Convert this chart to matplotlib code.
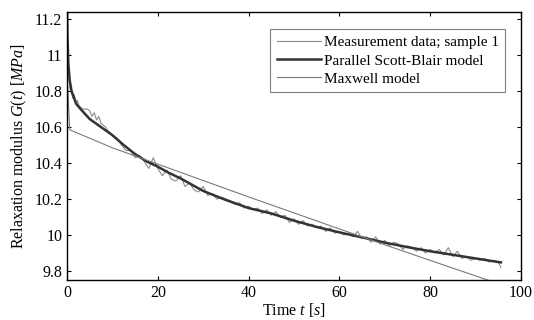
"""Relaxation modulus: measurement vs. Scott-Blair and Maxwell fits."""
import numpy as np
import matplotlib
matplotlib.use("Agg")
import matplotlib.pyplot as plt

plt.rcParams["font.family"] = ["Liberation Serif", "DejaVu Serif"]
plt.rcParams["mathtext.fontset"] = "custom"
plt.rcParams["mathtext.rm"] = "Liberation Serif"
plt.rcParams["mathtext.it"] = "Liberation Serif:italic"

# measurement data, sample 1 (dense start, then 1 s steps)
t_meas = [0, 0.2, 0.4, 0.7, 1.0, 1.3, 1.6, 2.0, 2.3, 2.6, 3.0, 3.5, 4.0, 4.5,
          5.0, 5.5, 6.0, 6.5, 7.0, 7.5, 8.0, 8.5, 9.0, 9.5] + list(range(10, 96)) + [95.6]
g_meas = [11.22, 11.00, 10.88, 10.81, 10.80, 10.76, 10.78, 10.73, 10.75, 10.72,
          10.71, 10.70, 10.70, 10.70, 10.69, 10.66, 10.68, 10.64, 10.66, 10.62,
          10.61, 10.60, 10.58, 10.57,
          10.55, 10.54, 10.50, 10.47, 10.47, 10.43, 10.44, 10.41, 10.37, 10.43,
          10.37, 10.33, 10.36, 10.31, 10.30, 10.33, 10.27, 10.29, 10.25, 10.24,
          10.27, 10.22, 10.23, 10.20, 10.21, 10.20, 10.19, 10.17, 10.18, 10.15,
          10.16, 10.14, 10.15, 10.12, 10.14, 10.11, 10.13, 10.10, 10.11, 10.07,
          10.09, 10.06, 10.08, 10.05, 10.06, 10.04, 10.05, 10.02, 10.04, 10.01,
          10.02, 10.00, 10.01, 9.99, 10.02, 9.98, 9.99, 9.96, 9.99, 9.95,
          9.97, 9.94, 9.96, 9.95, 9.92, 9.94, 9.93, 9.91, 9.93, 9.90,
          9.92, 9.90, 9.92, 9.89, 9.93, 9.88, 9.91, 9.87, 9.88, 9.86,
          9.87, 9.86, 9.87, 9.85, 9.86, 9.85, 9.82]

# parallel Scott-Blair fit
t_sb = [0.02, 0.1, 0.3, 0.6, 1, 2, 3, 5, 7.5, 10, 12.5, 15, 17.5, 20, 22.5, 25,
        27.5, 30, 35, 40, 45, 50, 55, 60, 65, 70, 75, 80, 85, 90, 95, 95.6]
g_sb = [11.25, 11.10, 10.95, 10.86, 10.80, 10.73, 10.70, 10.645, 10.60, 10.555,
        10.50, 10.45, 10.41, 10.38, 10.345, 10.315, 10.28, 10.245, 10.195, 10.15,
        10.12, 10.08, 10.045, 10.015, 9.987, 9.958, 9.933, 9.91, 9.89, 9.87,
        9.85, 9.848]

# Maxwell fit
t_mx = [0, 0.6, 10, 20, 30, 40, 50, 60, 70, 80, 90, 93]
g_mx = [10.90, 10.585, 10.485, 10.394, 10.303, 10.212, 10.123, 10.034, 9.946,
        9.859, 9.773, 9.747]

fig = plt.figure(figsize=(5.34, 3.2), dpi=100)
ax = fig.add_axes([0.1255, 0.125, 0.85, 0.8375])

ax.plot(t_meas, g_meas, color="#8c8c8c", lw=0.8, label="Measurement data; sample 1")
ax.plot(t_sb, g_sb, color="#333333", lw=1.8, label="Parallel Scott-Blair model")
ax.plot(t_mx, g_mx, color="#7a7a7a", lw=0.8, label="Maxwell model")

ax.set_xlim(0, 100)
ax.set_ylim(9.75, 11.24)
ax.set_xticks([0, 20, 40, 60, 80, 100])
ax.set_yticks([9.8, 10, 10.2, 10.4, 10.6, 10.8, 11, 11.2])
ax.set_yticklabels(["9.8", "10", "10.2", "10.4", "10.6", "10.8", "11", "11.2"])
ax.tick_params(direction="in", top=True, right=True, length=3, labelsize=11.5)
for s in ax.spines.values():
    s.set_linewidth(1.0)

ax.set_xlabel("Time $t$ $[s]$", fontsize=11.5, labelpad=0)
ax.set_ylabel("Relaxation modulus $G(t)$ $[MPa]$", fontsize=11.5, labelpad=4)

leg = ax.legend(loc="upper right", bbox_to_anchor=(0.965, 0.935), fontsize=11,
                fancybox=False, framealpha=1, edgecolor="#808080",
                handlelength=2.9, handletextpad=0.2, labelspacing=0.3,
                borderpad=0.4, borderaxespad=0)
leg.get_frame().set_linewidth(0.8)

fig.savefig("out.png", dpi=100)
